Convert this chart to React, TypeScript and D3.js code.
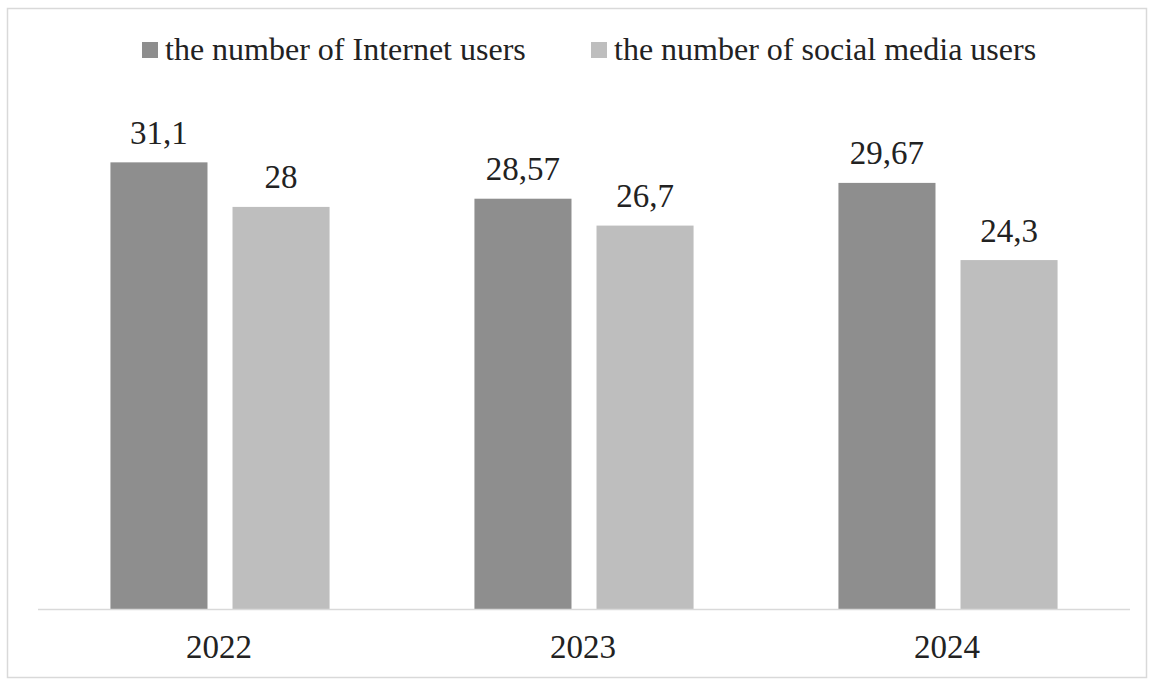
import React from "react";
import * as d3 from "d3";

const categories = ["2022", "2023", "2024"];
const seriesNames = ["the number of Internet users", "the number of social media users"];
const internetUsers = [31.1, 28.57, 29.67];
const socialUsers = [28, 26.7, 24.3];
const valueLabels = [
  ["31,1", "28,57", "29,67"],
  ["28", "26,7", "24,3"],
];
const colors = ["#8e8e8e", "#bebebe"];

const W = 1153;
const H = 679;
const FONT = '"Liberation Serif", Tinos, "Times New Roman", Times, "DejaVu Serif", serif';

export default function App() {
  const series = [internetUsers, socialUsers];
  const x0 = d3
    .scaleBand<string>()
    .domain(categories)
    .range([38, 1130])
    .paddingInner(0.398)
    .paddingOuter(0.199);
  const x1 = d3
    .scaleBand<number>()
    .domain([0, 1])
    .range([0, x0.bandwidth()])
    .paddingInner(0.205)
    .paddingOuter(0);
  const y = d3.scaleLinear().domain([0, 35]).range([609.3, 106.3]);

  const legendX = [142, 591];
  const textStyle = { fontFamily: FONT } as React.CSSProperties;

  return (
    <svg
      width={W}
      height={H}
      style={{ position: "absolute", left: 0, top: 0, display: "block", background: "#fff" }}
    >
      <rect x={0} y={0} width={W} height={H} fill="#fff" />
      <rect x={7.5} y={8.5} width={1139} height={669} fill="#fff" stroke="#d9d9d9" strokeWidth={1.5} />
      {seriesNames.map((name, i) => (
        <g key={name}>
          <rect x={legendX[i]} y={42} width={16} height={16} fill={colors[i]} />
          <text x={legendX[i] + 23} y={60} style={textStyle} fontSize={32} fill="#222">
            {name}
          </text>
        </g>
      ))}
      {categories.map((c, ci) => (
        <g key={c} transform={`translate(${x0(c)},0)`}>
          {series.map((s, si) => (
            <g key={si}>
              <rect
                x={x1(si)}
                y={y(s[ci])}
                width={x1.bandwidth()}
                height={y(0) - y(s[ci])}
                fill={colors[si]}
              />
              <text
                x={(x1(si) as number) + x1.bandwidth() / 2}
                y={y(s[ci]) - 18.5}
                textAnchor="middle"
                style={textStyle}
                fontSize={33}
                fill="#222"
              >
                {valueLabels[si][ci]}
              </text>
            </g>
          ))}
          <text
            x={x0.bandwidth() / 2 - 1}
            y={658}
            textAnchor="middle"
            style={textStyle}
            fontSize={33}
            fill="#222"
          >
            {c}
          </text>
        </g>
      ))}
      <line x1={38} x2={1130} y1={609.5} y2={609.5} stroke="#d9d9d9" strokeWidth={1.5} />
    </svg>
  );
}
